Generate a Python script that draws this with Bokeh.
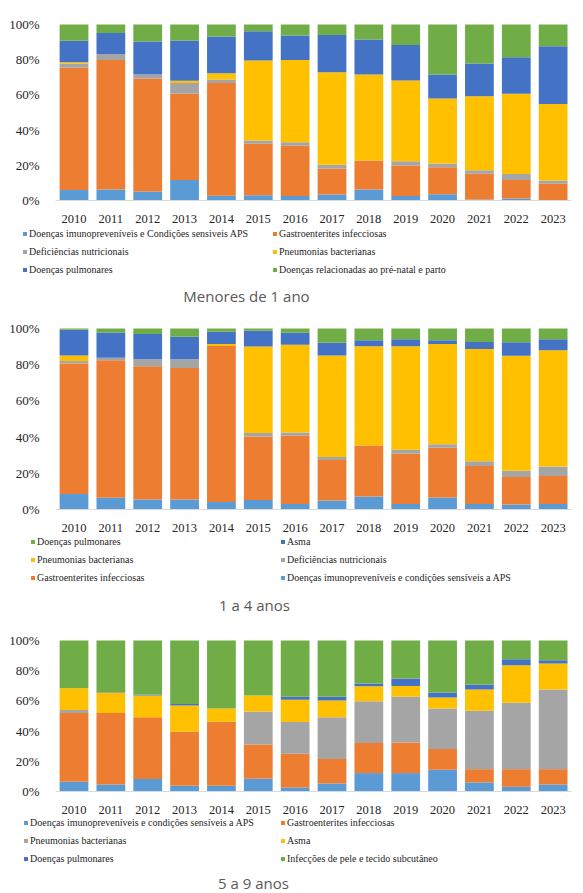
from bokeh.plotting import figure
from bokeh.models import (Range1d, NumeralTickFormatter, FixedTicker, LinearAxis,
                          Legend, LegendItem, Label, ColumnDataSource)
from bokeh.layouts import column
from bokeh.embed import file_html
from bokeh.resources import INLINE

years = list(range(2010, 2024))
y_ticks = [0, 0.2, 0.4, 0.6, 0.8, 1.0]

COL_LB = "#5B9BD5"
COL_OR = "#ED7D31"
COL_GR = "#A5A5A5"
COL_YE = "#FFC000"
COL_DB = "#4472C4"
COL_GN = "#70AD47"

# ---------------- Panel 1: Menores de 1 ano ----------------
p1_title = "Menores de 1 ano"
p1_names = ["Doenças imunopreveníveis e Condições sensiveis APS",
            "Gastroenterites infecciosas",
            "Deficiências nutricionais",
            "Pneumonias bacterianas",
            "Doenças pulmonares",
            "Doenças relacionadas ao pré-natal e parto"]
p1_colors = [COL_LB, COL_OR, COL_GR, COL_YE, COL_DB, COL_GN]
p1_imuno = [6.0, 6.2, 5.1, 11.7, 2.7, 3.0, 2.5, 3.4, 6.3, 2.5, 3.6, 0.6, 1.1, 0.0]
p1_gastro = [69.4, 73.7, 64.2, 48.9, 64.0, 29.2, 28.6, 14.6, 16.4, 17.4, 15.3, 14.6, 10.6, 9.5]
p1_defic = [2.3, 3.4, 2.3, 6.1, 2.1, 1.9, 2.0, 2.3, 0.0, 2.4, 2.1, 2.0, 3.3, 1.9]
p1_pneumo = [0.9, 0.0, 0.0, 1.3, 3.5, 45.4, 46.8, 52.6, 48.9, 45.9, 36.9, 42.1, 45.6, 43.5]
p1_pulm = [12.1, 11.8, 18.7, 22.9, 20.9, 16.7, 13.9, 21.2, 19.9, 20.2, 13.7, 18.5, 20.8, 32.8]
p1_prenatal = [9.3, 4.9, 9.7, 9.1, 6.8, 3.8, 6.2, 5.9, 8.5, 11.6, 28.4, 22.2, 18.6, 12.3]
p1_values = [p1_imuno, p1_gastro, p1_defic, p1_pneumo, p1_pulm, p1_prenatal]
p1_legend_order = [0, 1, 2, 3, 4, 5]

# ---------------- Panel 2: 1 a 4 anos ----------------
p2_title = "1 a 4 anos"
p2_names = ["Doenças imunopreveníveis e condições sensíveis a APS",
            "Gastroenterites infecciosas",
            "Deficiências nutricionais",
            "Pneumonias bacterianas",
            "Asma",
            "Doenças pulmonares"]
p2_colors = [COL_LB, COL_OR, COL_GR, COL_YE, COL_DB, COL_GN]
p2_imuno = [8.5, 6.5, 5.5, 5.5, 4.2, 5.2, 3.1, 5.0, 7.2, 3.0, 6.6, 3.1, 2.8, 3.0]
p2_gastro = [72.1, 76.0, 73.7, 72.7, 86.2, 35.2, 37.7, 22.3, 28.2, 27.8, 27.5, 20.9, 15.1, 15.5]
p2_defic = [1.5, 1.4, 3.8, 4.8, 0.0, 1.9, 1.8, 1.7, 0.0, 2.2, 1.9, 2.6, 3.5, 5.3]
p2_pneumo = [3.0, 0.0, 0.0, 0.0, 1.1, 47.7, 48.4, 56.1, 54.8, 57.2, 55.5, 62.1, 63.5, 64.2]
p2_asma = [14.2, 13.9, 14.0, 12.4, 6.7, 8.7, 6.6, 7.0, 3.3, 3.9, 2.0, 3.9, 7.5, 6.1]
p2_pulm = [0.7, 2.2, 3.0, 4.6, 1.8, 1.3, 2.4, 7.9, 6.5, 5.9, 6.5, 7.4, 7.6, 5.9]
p2_values = [p2_imuno, p2_gastro, p2_defic, p2_pneumo, p2_asma, p2_pulm]
p2_legend_order = [5, 4, 3, 2, 1, 0]

# ---------------- Panel 3: 5 a 9 anos ----------------
p3_title = "5 a 9 anos"
p3_names = ["Doenças imunopreveníveis e condições sensíveis a APS",
            "Gastroenterites infecciosas",
            "Pneumonias bacterianas",
            "Asma",
            "Doenças pulmonares",
            "Infecções de pele e tecido subcutâneo"]
p3_colors = [COL_LB, COL_OR, COL_GR, COL_YE, COL_DB, COL_GN]
p3_imuno = [6.4, 4.6, 8.2, 3.8, 3.8, 8.4, 2.7, 5.3, 12.2, 12.2, 14.4, 6.0, 3.1, 4.6]
p3_gastro = [45.6, 47.4, 40.9, 35.8, 42.4, 22.8, 22.3, 16.2, 19.9, 20.3, 13.7, 8.8, 11.7, 10.2]
p3_pneumo = [2.0, 0.0, 0.0, 0.0, 0.0, 21.7, 21.0, 27.6, 27.6, 30.3, 26.8, 38.7, 44.0, 52.7]
p3_asma = [14.4, 13.5, 14.4, 17.3, 8.7, 10.6, 14.8, 11.1, 10.0, 7.1, 7.3, 14.0, 24.8, 17.2]
p3_pulm = [0.0, 0.4, 0.7, 1.1, 0.0, 0.0, 2.0, 2.6, 1.8, 4.9, 3.3, 3.3, 4.0, 2.2]
p3_pele = [31.6, 34.1, 35.8, 42.0, 45.1, 36.5, 37.2, 37.2, 28.5, 25.2, 34.5, 29.2, 12.4, 13.1]
p3_values = [p3_imuno, p3_gastro, p3_pneumo, p3_asma, p3_pulm, p3_pele]
p3_legend_order = [0, 1, 2, 3, 4, 5]

SERIF = "Liberation Serif"
W = 583
LH = 15
SP = 3
PITCH = 36.857      # px between bar centres
X0 = 73.5           # px of first bar centre
FRAME_L = 55        # px of the plot area's left edge


def make_panel(title, names, colors, values, legend_order, H, s0, s1,
               leg_x1, leg_x2, row1, title_x, title_y):
    # s0 = pixel row of 0 %, s1 = pixel row of 100 % (inside this panel)
    data = {"year": years}
    keys = []
    for i, vals in enumerate(values):
        k = "s%d" % i
        keys.append(k)
        data[k] = [v / 100.0 for v in vals]
    src = ColumnDataSource(data)

    span = float(s0 - s1)
    y_range = Range1d(-(H - s0) / span, s0 / span)
    x_range = Range1d(years[0] - X0 / PITCH, years[0] + (W - X0) / PITCH)

    p = figure(width=W, height=H, x_range=x_range, y_range=y_range,
               min_border=0, min_border_left=0, min_border_right=0,
               min_border_top=0, min_border_bottom=0, title=None,
               x_axis_type=None, y_axis_type=None,
               output_backend="svg", toolbar_location=None)
    p.outline_line_color = None

    rs = p.vbar_stack(keys, x="year", width=0.78, color=colors, line_color=None,
                      source=src)

    xa = LinearAxis(fixed_location=0, ticker=FixedTicker(ticks=years),
                    bounds=(years[0] - 0.5, years[-1] + 0.5))
    xa.axis_line_color = "#D9D9D9"
    xa.axis_line_width = 1
    xa.major_tick_line_color = None
    xa.minor_tick_line_color = None
    xa.major_label_standoff = 8
    xa.major_label_text_font = SERIF
    xa.major_label_text_font_size = "12.5px"
    xa.major_label_text_color = "#262626"
    p.add_layout(xa, "below")

    ya = LinearAxis(fixed_location=years[0] - (X0 - FRAME_L) / PITCH,
                    ticker=FixedTicker(ticks=y_ticks), bounds=(0, 1),
                    formatter=NumeralTickFormatter(format="0%"))
    ya.axis_line_color = None
    ya.major_tick_line_color = None
    ya.minor_tick_line_color = None
    ya.major_label_standoff = 10
    ya.major_label_text_font = SERIF
    ya.major_label_text_font_size = "13px"
    ya.major_label_text_color = "#262626"
    p.add_layout(ya, "left")

    ordered = [LegendItem(label=names[i], renderers=[rs[i]]) for i in legend_order]
    leg_h = 3 * LH + 2 * SP
    leg_top = row1 - LH / 2.0
    vy = H - (leg_top + leg_h)
    for col, lx in ((0, leg_x1), (1, leg_x2)):
        leg = Legend(items=ordered[col::2], orientation="vertical",
                     location=(lx, vy), glyph_width=5, glyph_height=5,
                     label_standoff=2, label_height=LH, label_width=10,
                     spacing=SP, padding=0, margin=0, border_line_color=None,
                     background_fill_alpha=0, label_text_font=SERIF,
                     label_text_font_size="10px", label_text_color="#262626")
        p.add_layout(leg)

    lab = Label(x=title_x, y=H - title_y, x_units="screen", y_units="screen",
                text=title, text_align="center", text_baseline="middle",
                text_font="Open Sans", text_font_size="15px",
                text_color="#595959")
    p.add_layout(lab)
    return p


f1 = make_panel(p1_title, p1_names, p1_colors, p1_values, p1_legend_order,
                310, 200, 24, 22, 272, 233, 246, 295)
f2 = make_panel(p2_title, p2_names, p2_colors, p2_values, p2_legend_order,
                310, 199, 18, 30, 280, 231.5, 254, 294)
f3 = make_panel(p3_title, p3_names, p3_colors, p3_values, p3_legend_order,
                273, 171, 20, 23, 280, 202, 253, 262)

layout = column(f1, f2, f3, spacing=0)
open("out.html", "w").write(file_html(layout, INLINE))
